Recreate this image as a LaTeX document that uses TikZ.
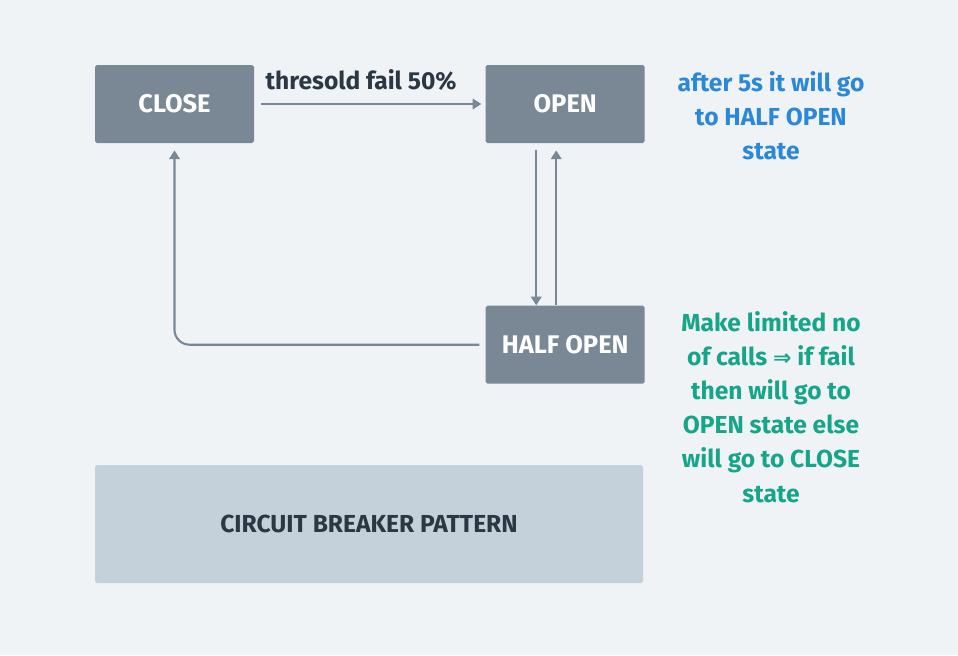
\documentclass[tikz,border=0pt]{standalone}
\usepackage{fontspec}
\setmainfont{Fira Sans}
\newfontfamily\symfont{DejaVu Sans}
\usepackage{xcolor}
\usetikzlibrary{arrows.meta, positioning, calc}
\definecolor{slate}{RGB}{122,136,150}
\definecolor{paper}{RGB}{239,243,246}
\definecolor{mist}{RGB}{197,209,218}
\definecolor{ink}{RGB}{43,55,67}
\definecolor{skyblue}{RGB}{43,136,216}
\definecolor{teal}{RGB}{23,165,137}

\begin{document}
\begin{tikzpicture}[node distance=1.5cm, >={Triangle[length=5pt,width=6pt]}]
  \tikzstyle{state} = [rectangle, fill=slate, minimum width=3.18cm, minimum height=1.56cm, rounded corners=1pt, inner sep=0pt, font=\fontsize{14.5}{16}\bfseries\color{white}]
  \tikzstyle{note} = [align=center, font=\fontsize{14}{19.4}\bfseries]
  \tikzstyle{link} = [->, draw=slate, line width=1.2pt]

  % canvas
  \fill[paper] (0,0) rectangle (19.16,-13.1);
  \useasboundingbox (0,0) rectangle (19.16,-13.1);

  \node [state] (close) at (3.49,-2.08) {CLOSE};
  \node [state, right=4.62cm of close] (open) {OPEN};
  \node [state, below=3.24cm of open] (half) {HALF OPEN};
  \node [rectangle, fill=mist, minimum width=10.96cm, minimum height=2.36cm, rounded corners=1pt, font=\fontsize{14}{16}\bfseries\color{ink}] (title) at (7.38,-10.48) {CIRCUIT BREAKER PATTERN};

  \node [note, text=skyblue] (opennote) at (15.42,-2.32) {after 5s it will go\\to HALF OPEN\\state};
  \node [note, text=teal] (halfnote) at (15.42,-8.14) {Make limited no\\of calls {\symfont\fontsize{12.5}{19.4}\selectfont ⇒} if fail\\then will go to\\OPEN state else\\will go to CLOSE\\state};

  \draw[link, shorten <=0.14cm, shorten >=0.08cm] (close) -- (open);
  \node [anchor=base west, inner sep=0pt, font=\fontsize{14}{16}\bfseries\color{ink}] (failtext) at ([xshift=0.22cm, yshift=0.3cm]close.east) {thresold fail 50\%};
  \draw[link, shorten <=0.14cm] ([xshift=-0.58cm]open.south) -- ([xshift=-0.58cm]half.north);
  \draw[link, shorten >=0.14cm] ([xshift=-0.18cm]half.north) -- ([xshift=-0.18cm]open.south);
  \draw[link, rounded corners=0.3cm, shorten <=0.12cm, shorten >=0.14cm] (half.west) -| (close.south);
\end{tikzpicture}
\end{document}
